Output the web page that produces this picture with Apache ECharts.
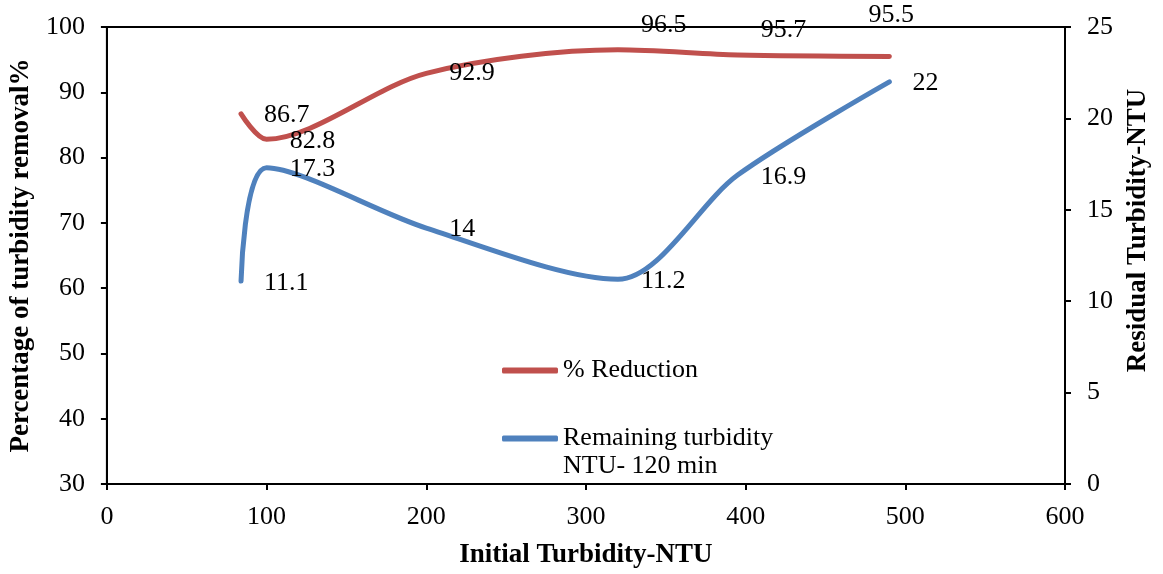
<!DOCTYPE html>
<html>
<head>
<meta charset="utf-8">
<script src="https://cdn.jsdelivr.net/npm/echarts@6/dist/echarts.min.js"></script>
<style>
  html, body { margin: 0; padding: 0; background: #fff; }
  #chart { width: 1163px; height: 574px; }
</style>
</head>
<body>
<div id="chart"></div>
<script>
// Initial turbidity (NTU) of each sample
const initialTurbidity = [84, 100, 200, 320, 395, 490];
// Percentage of turbidity removed after treatment
const reductionPct = [86.7, 82.8, 92.9, 96.5, 95.7, 95.5];
// Remaining turbidity (NTU) after 120 min
const remainingNTU = [11.1, 17.3, 14, 11.2, 16.9, 22];

const xTicks = { min: 0, max: 600, interval: 100 };
const leftTicks = { min: 30, max: 100, interval: 10 };
const rightTicks = { min: 0, max: 25, interval: 5 };

const FONT = '"Liberation Serif", "Times New Roman", serif';
const RED = '#C0504D';
const BLUE = '#4F81BD';

// Per-point label placement (offsets from the point, in px)
const redLabelOffsets = [[0, 1], [0, 2], [0, 0], [0, -25], [0, -25], [-44, -41]];
const blueLabelOffsets = [[0, 2], [0, 1], [0, 1], [0, 2], [0, 2], [0, 1]];

function pairs(xs, ys, offsets) {
  return xs.map((x, i) => ({
    value: [x, ys[i]],
    label: { offset: offsets[i] }
  }));
}

const axisCommon = {
  axisLine: { show: true, lineStyle: { color: '#000', width: 2 } },
  axisTick: { show: true, inside: false, length: 6, lineStyle: { color: '#000', width: 2 } },
  axisLabel: { color: '#000', fontFamily: FONT, fontSize: 26 },
  splitLine: { show: false },
  nameTextStyle: { color: '#000', fontFamily: FONT, fontSize: 27, fontWeight: 'bold' }
};

const labelCommon = {
  show: true,
  position: 'right',
  distance: 23,
  color: '#000',
  fontFamily: FONT,
  fontSize: 26,
  formatter: p => String(p.value[1])
};

const chart = echarts.init(document.getElementById('chart'), null, { renderer: 'canvas' });
chart.setOption({
  animation: false,
  backgroundColor: '#fff',
  grid: {
    left: 105, right: 98, top: 27, bottom: 87,
    show: true, borderColor: '#000', borderWidth: 2, backgroundColor: 'transparent'
  },
  legend: {
    orient: 'vertical',
    left: 502,
    top: 356,
    padding: 0,
    itemWidth: 56,
    itemHeight: 6,
    itemGap: 39,
    icon: 'roundRect',
    textStyle: { color: '#000', fontFamily: FONT, fontSize: 26, lineHeight: 29 },
    data: ['% Reduction', 'Remaining turbidity']
  },
  graphic: [{
    type: 'text',
    left: 563,
    top: 453,
    style: { text: 'NTU- 120 min', fill: '#000', font: '26px ' + FONT }
  }],
  xAxis: Object.assign({}, axisCommon, {
    type: 'value',
    min: xTicks.min, max: xTicks.max, interval: xTicks.interval,
    name: 'Initial Turbidity-NTU',
    nameLocation: 'middle',
    nameGap: 58,
    axisLabel: Object.assign({}, axisCommon.axisLabel, { margin: 20 })
  }),
  yAxis: [
    Object.assign({}, axisCommon, {
      type: 'value',
      min: leftTicks.min, max: leftTicks.max, interval: leftTicks.interval,
      name: 'Percentage of turbidity removal%',
      nameLocation: 'middle',
      nameGap: 71,
      axisLabel: Object.assign({}, axisCommon.axisLabel, { margin: 22 })
    }),
    Object.assign({}, axisCommon, {
      type: 'value',
      position: 'right',
      min: rightTicks.min, max: rightTicks.max, interval: rightTicks.interval,
      name: 'Residual Turbidity-NTU',
      nameLocation: 'middle',
      nameGap: 60,
      nameRotate: 90,
      nameTextStyle: Object.assign({}, axisCommon.nameTextStyle, { padding: [0, 0, 0, 50] }),
      axisLabel: Object.assign({}, axisCommon.axisLabel, { margin: 22 })
    })
  ],
  series: [
    {
      name: '% Reduction',
      type: 'line',
      yAxisIndex: 0,
      smooth: 0.3,
      symbol: 'circle',
      symbolSize: 0.1,
      lineStyle: { color: RED, width: 5, cap: 'round' },
      itemStyle: { color: RED },
      label: labelCommon,
      data: pairs(initialTurbidity, reductionPct, redLabelOffsets)
    },
    {
      name: 'Remaining turbidity',
      type: 'line',
      yAxisIndex: 1,
      smooth: 0.3,
      symbol: 'circle',
      symbolSize: 0.1,
      lineStyle: { color: BLUE, width: 5, cap: 'round' },
      itemStyle: { color: BLUE },
      label: labelCommon,
      data: pairs(initialTurbidity, remainingNTU, blueLabelOffsets)
    }
  ]
});
</script>
</body>
</html>
